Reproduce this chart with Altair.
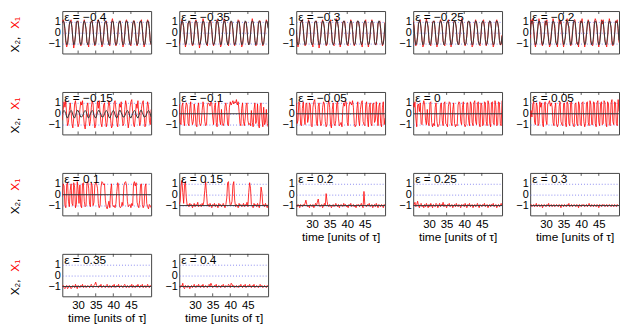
import altair as alt
import pandas as pd

# ---------------- data ----------------
T0, DT, TMAX = 25.5, 0.25, 50.75
X_TICKS = [30, 35, 40, 45]
Y_TICKS = [-1, 0, 1]
EPS_LABELS = ["−0.4", "−0.35", "−0.3", "−0.25", "−0.2", "−0.15", "−0.1", "−0.05",
              "0", "0.05", "0.1", "0.15", "0.2", "0.25", "0.3", "0.35", "0.4"]

black_m040 = [0.9,1.1,1.0,0.4,-0.7,-1.1,-1.0,-0.3, 0.8,1.1,1.0,0.5,-0.6,-1.1,-1.0,-0.2,
              0.9,1.1,1.0,0.3,-0.8,-1.1,-1.0,-0.2, 0.9,1.1,0.9,0.3,-0.8,-1.1,-1.0,-0.3,
              0.8,1.1,1.0,0.4,-0.7,-1.1,-1.0,-0.2, 0.9,1.1,1.0,0.4,-0.7,-1.1,-1.0,-0.3,
              0.8,1.1,1.0,0.5,-0.6,-1.1,-1.0,-0.2, 0.9,1.1,1.0,0.3,-0.8,-1.1,-1.0,-0.3,
              0.8,1.1,1.0,0.4,-0.7,-1.1,-1.0,-0.2, 0.9,1.1,1.0,0.4,-0.7,-1.1,-1.0,-0.3,
              0.8,1.1,1.0,0.4,-0.7,-1.1,-1.0,-0.2, 0.9,1.1,1.0,0.4,-0.7,-1.1,-1.0,-0.3,
              0.9,1.1,1.0,0.4,-0.7,-1.1]
red_m040 = [1.0,1.2,0.9,0.2,-0.9,-1.3,-1.0,-0.1, 0.7,1.0,1.2,0.5,-0.5,-1.4,-0.9,-0.3,
            1.0,1.0,1.1,0.2,-0.9,-1.2,-1.1,-0.1, 0.8,1.2,0.8,0.4,-0.9,-1.0,-1.3,-0.2,
            0.9,1.0,1.1,0.3,-0.8,-1.2,-0.9,-0.3, 1.0,1.2,0.9,0.5,-0.6,-1.3,-1.1,-0.2,
            0.7,1.0,1.1,0.6,-0.7,-1.0,-1.2,-0.1, 1.0,1.3,0.9,0.2,-0.9,-1.2,-0.9,-0.4,
            0.8,1.0,1.1,0.5,-0.8,-1.3,-1.0,-0.1, 1.0,1.2,0.9,0.3,-0.6,-1.0,-1.2,-0.3,
            0.7,1.1,1.1,0.5,-0.8,-1.2,-0.9,-0.2, 1.0,1.0,1.2,0.3,-0.7,-1.3,-1.0,-0.2,
            0.9,1.2,1.0,0.4,-0.8,-1.1]

black_m035 = [-1.0,-0.4,0.7,1.1,1.0,0.5,-0.6,-1.1, -1.0,-0.3,0.8,1.1,1.0,0.4,-0.7,-1.1,
              -1.0,-0.2,0.9,1.1,1.0,0.3,-0.8,-1.1, -1.0,-0.3,0.8,1.1,1.0,0.4,-0.7,-1.1,
              -1.0,-0.2,0.9,1.1,0.9,0.3,-0.8,-1.1, -1.0,-0.3,0.8,1.1,1.0,0.4,-0.7,-1.1,
              -1.0,-0.3,0.8,1.1,1.0,0.5,-0.6,-1.1, -1.0,-0.2,0.9,1.1,1.0,0.3,-0.8,-1.1,
              -1.0,-0.3,0.8,1.1,1.0,0.4,-0.7,-1.1, -1.0,-0.3,0.8,1.1,1.0,0.4,-0.7,-1.1,
              -1.0,-0.2,0.9,1.1,1.0,0.4,-0.7,-1.1, -1.0,-0.3,0.8,1.1,1.0,0.4,-0.7,-1.1,
              -1.0,-0.3,0.8,1.1,1.0,0.4]
red_m035 = [-1.2,-0.5,0.6,1.2,0.9,0.6,-0.5,-1.3, -0.9,-0.2,0.9,1.0,1.1,0.3,-0.9,-1.2,
            -1.1,-0.1,1.0,1.2,0.9,0.2,-0.7,-1.4, -0.9,-0.4,0.7,1.3,1.0,0.5,-0.8,-1.0,
            -1.2,-0.1,1.0,1.0,1.1,0.2,-0.9,-1.2, -0.9,-0.4,0.9,1.2,0.9,0.5,-0.6,-1.3,
            -1.1,-0.2,0.7,1.3,1.1,0.4,-0.7,-1.0, -1.2,-0.3,1.0,1.0,0.9,0.2,-0.9,-1.2,
            -0.9,-0.2,0.8,1.2,1.1,0.5,-0.6,-1.3, -1.1,-0.4,0.9,1.0,1.0,0.3,-0.8,-1.1,
            -1.0,-0.1,0.8,1.3,0.9,0.5,-0.7,-1.2, -1.1,-0.3,0.9,1.1,1.1,0.3,-0.8,-1.2,
            -0.9,-0.2,0.7,1.2,1.0,0.5]

black_m030 = [0.3,-0.8,-1.1,-1.0,-0.2,0.9,1.1,1.0, 0.4,-0.7,-1.1,-1.0,-0.3,0.8,1.1,1.0,
              0.3,-0.8,-1.1,-1.0,-0.2,0.9,1.1,1.0, 0.4,-0.7,-1.1,-1.0,-0.3,0.8,1.1,1.0,
              0.4,-0.7,-1.1,-1.0,-0.2,0.9,1.1,1.0, 0.3,-0.8,-1.1,-1.0,-0.3,0.8,1.1,1.0,
              0.4,-0.7,-1.1,-1.0,-0.2,0.9,1.1,1.0, 0.4,-0.7,-1.1,-1.0,-0.3,0.8,1.1,1.0,
              0.3,-0.8,-1.1,-1.0,-0.2,0.9,1.1,1.0, 0.4,-0.7,-1.1,-1.0,-0.3,0.8,1.1,1.0,
              0.4,-0.7,-1.1,-1.0,-0.2,0.9,1.1,1.0, 0.3,-0.8,-1.1,-1.0,-0.3,0.8,1.1,1.0,
              0.4,-0.7,-1.1,-1.0,-0.2,0.9]
red_m030 = [0.2,-0.9,-1.3,-0.9,-0.1,1.0,1.0,1.2, 0.3,-0.6,-1.2,-1.1,-0.4,0.7,1.2,0.9,
            0.5,-0.9,-1.0,-1.3,-0.1,1.0,1.0,1.1, 0.2,-0.8,-1.4,-0.9,-0.2,0.9,1.2,0.9,
            0.5,-0.6,-1.2,-1.1,-0.3,0.8,1.0,1.2, 0.2,-0.9,-1.0,-1.2,-0.2,0.9,1.3,0.9,
            0.5,-0.8,-1.3,-0.9,-0.1,1.0,1.0,1.1, 0.3,-0.6,-1.1,-1.2,-0.4,0.7,1.2,1.0,
            0.2,-0.9,-1.2,-1.0,-0.1,1.0,1.1,0.9, 0.5,-0.7,-1.0,-1.3,-0.2,0.9,1.0,1.2,
            0.3,-0.8,-1.3,-0.9,-0.3,0.8,1.2,0.9, 0.4,-0.9,-1.1,-1.1,-0.2,0.9,1.0,1.1,
            0.3,-0.6,-1.2,-1.0,-0.3,1.0]

black_m025 = [1.0,0.5,-0.6,-1.1,-1.0,-0.3,0.8,1.1, 1.0,0.4,-0.7,-1.1,-1.0,-0.2,0.9,1.1,
              1.0,0.4,-0.7,-1.1,-1.0,-0.3,0.8,1.1, 1.0,0.3,-0.8,-1.1,-1.0,-0.2,0.9,1.1,
              1.0,0.4,-0.7,-1.1,-1.0,-0.3,0.8,1.1, 1.0,0.5,-0.6,-1.1,-1.0,-0.2,0.9,1.1,
              1.0,0.4,-0.7,-1.1,-1.0,-0.3,0.8,1.1, 1.0,0.3,-0.8,-1.1,-1.0,-0.2,0.9,1.1,
              1.0,0.4,-0.7,-1.1,-1.0,-0.3,0.8,1.1, 1.0,0.4,-0.7,-1.1,-1.0,-0.2,0.9,1.1,
              1.0,0.5,-0.6,-1.1,-1.0,-0.3,0.8,1.1, 1.0,0.4,-0.7,-1.1,-1.0,-0.2,0.9,1.1,
              1.0,0.4,-0.7,-1.1,-1.0,-0.3]
red_m025 = [1.1,0.6,-0.8,-1.2,-0.9,-0.4,0.9,1.0, 1.2,0.3,-0.6,-1.3,-1.1,-0.1,0.8,1.3,
            0.9,0.5,-0.9,-1.0,-1.2,-0.4,1.0,1.0, 1.1,0.2,-0.7,-1.3,-0.9,-0.1,0.8,1.2,
            1.0,0.5,-0.8,-1.1,-1.2,-0.2,0.9,1.0, 1.2,0.4,-0.5,-1.3,-0.9,-0.3,1.0,1.1,
            0.9,0.5,-0.8,-1.0,-1.1,-0.2,0.7,1.3, 1.1,0.2,-0.9,-1.2,-0.9,-0.3,1.0,1.0,
            1.0,0.5,-0.6,-1.3,-1.1,-0.2,0.9,1.2, 0.9,0.3,-0.8,-1.0,-1.2,-0.3,0.8,1.0,
            1.2,0.6,-0.7,-1.2,-0.9,-0.2,0.9,1.1, 1.0,0.3,-0.8,-1.3,-1.0,-0.3,1.0,1.2,
            0.9,0.5,-0.6,-1.1,-1.1,-0.2]

black_m020 = [-0.2,0.9,1.1,1.0,0.4,-0.7,-1.1,-1.0, -0.3,0.8,1.1,1.0,0.4,-0.7,-1.1,-1.0,
              -0.2,0.9,1.1,1.0,0.3,-0.8,-1.1,-1.0, -0.3,0.8,1.1,1.0,0.4,-0.7,-1.1,-1.0,
              -0.2,0.9,1.1,1.0,0.5,-0.6,-1.1,-1.0, -0.3,0.8,1.1,1.0,0.4,-0.7,-1.1,-1.0,
              -0.2,0.9,1.1,1.0,0.3,-0.8,-1.1,-1.0, -0.3,0.8,1.1,1.0,0.4,-0.7,-1.1,-1.0,
              -0.2,0.9,1.1,1.0,0.4,-0.7,-1.1,-1.0, -0.3,0.8,1.1,1.0,0.4,-0.7,-1.1,-1.0,
              -0.2,0.9,1.1,1.0,0.3,-0.8,-1.1,-1.0, -0.3,0.8,1.1,1.0,0.4,-0.7,-1.1,-1.0,
              -0.2,0.9,1.1,1.0,0.4,-0.7]
red_m020 = [-0.5,1.2,0.8,1.3,0.1,-0.9,-1.3,-0.8, 0.1,0.6,1.3,0.8,0.6,-1.0,-1.2,-0.7,
            -0.4,1.1,0.7,1.2,0.0,-0.5,-1.3,-1.1, 0.0,0.5,1.3,0.9,0.7,-0.9,-1.0,-1.3,
            -0.1,1.2,0.8,1.1,0.2,-0.9,-1.3,-0.7, -0.5,1.0,1.3,0.7,0.6,-0.5,-1.2,-1.1,
            0.1,0.7,1.2,1.2,0.0,-1.0,-0.9,-1.3, -0.4,1.1,0.9,1.3,0.5,-0.6,-1.3,-0.8,
            0.0,0.6,1.2,0.8,0.1,-0.9,-1.1,-1.2, -0.6,1.0,1.3,1.1,0.6,-0.8,-1.3,-0.8,
            0.1,1.2,0.8,1.2,0.0,-0.6,-1.0,-1.3, -0.5,0.7,1.3,0.9,0.5,-1.0,-1.2,-0.9,
            0.0,1.1,0.9,1.2,0.2,-0.9]

black_m015 = [0.0,0.2,0.3,0.2,0.0,-0.3,-0.4,-0.2, 0.0,0.2,0.3,0.2,-0.1,-0.3,-0.4,-0.2,
              0.1,0.3,0.3,0.1,-0.1,-0.3,-0.3,-0.2, 0.0,0.2,0.3,0.2,0.0,-0.3,-0.4,-0.2,
              0.0,0.2,0.3,0.2,-0.1,-0.3,-0.4,-0.2, 0.1,0.3,0.3,0.1,-0.1,-0.3,-0.3,-0.2,
              0.0,0.2,0.3,0.2,0.0,-0.3,-0.4,-0.2, 0.0,0.2,0.3,0.2,-0.1,-0.3,-0.4,-0.2,
              0.1,0.3,0.3,0.1,-0.1,-0.3,-0.3,-0.2, 0.0,0.2,0.3,0.2,0.0,-0.3,-0.4,-0.2,
              0.0,0.2,0.3,0.2,-0.1,-0.3,-0.4,-0.2, 0.1,0.3,0.3,0.1,-0.1,-0.3,-0.3,-0.2,
              0.0,0.2,0.3,0.2,0.0,-0.3]
red_m015 = [-0.6,0.4,1.1,0.6,1.2,-0.2,-1.1,-0.8, 0.3,1.0,0.2,-0.9,-1.3,-0.4,0.9,1.2,
            0.5,-0.6,-1.2,-0.9,0.4,1.1,0.8,1.2, -0.1,-1.0,-1.4,-0.6,0.7,1.0,-0.3,-1.1,
            -0.7,0.6,1.2,0.9,-0.5,-1.3,-1.0,0.2, 1.1,0.5,1.2,0.1,-0.9,-1.2,-0.3,0.8,
            1.0,-0.4,-1.2,-0.8,0.5,1.2,0.7,-0.6, -1.3,-1.1,0.1,1.0,1.2,0.4,-0.8,-1.2,
            -0.2,0.9,0.6,1.1,-0.3,-1.1,-0.9,0.4, 1.2,0.8,-0.5,-1.3,-0.7,0.6,1.1,1.3,
            0.2,-1.0,-1.2,-0.4,0.9,0.5,1.2,-0.2, -1.1,-0.8,0.5,1.0,1.2,-0.1,-1.2,-0.9,
            0.3,1.1,0.7,-0.6,-1.0,0.4]

red_m010 = [0.9,-0.8,-1.0,0.7,1.0,-0.6,-1.1,0.4, 1.0,0.8,-0.9,-1.1,0.5,1.1,-0.4,-1.0,
            -0.7,0.9,0.2,-1.0,-1.2,0.6,1.0,-0.8, -1.1,-0.9,0.3,1.1,0.6,-0.7,-1.1,-1.0,
            0.8,1.0,0.9,0.7,1.1,0.9,-0.3,-1.0, 0.6,1.0,-0.8,-1.2,0.5,1.1,-0.6,-1.0,
            0.4,-0.9,-1.1,-0.8,0.7,1.0,0.2,-1.0, -1.1,0.6,1.1,0.8,1.0,1.2,0.9,1.1,
            1.0,1.3,0.8,1.1,0.2,-0.9,-1.1,0.5, 1.0,-0.7,-1.1,-0.4,0.8,1.0,-0.6,-1.0,
            -0.9,-1.1,0.3,-0.8,-1.2,0.4,1.0,-0.9, -0.6,0.9,-1.0,-1.3,0.7,1.0,-0.5,-1.2,
            0.6,-1.0,-0.8,0.4,-0.9,-1.2]
red_m005 = [1.0,-0.9,-0.6,1.1,0.8,-1.0,-1.1,0.5, 1.1,-0.3,-1.0,0.9,1.0,-0.8,-0.4,1.0,
            0.8,-1.1,-1.2,0.6,1.1,1.3,0.4,-0.9, -1.1,0.7,1.0,-0.5,-1.1,-0.9,0.6,1.1,
            0.9,-0.7,-1.2,-1.0,0.8,1.2,0.6,-1.0, -1.3,0.4,1.0,-0.9,-1.1,-0.6,0.9,1.1,
            -0.4,-1.1,-1.0,-0.8,-1.2,0.5,1.0,0.7, 1.2,1.0,-0.8,-1.1,0.7,1.1,1.0,0.8,
            1.2,0.6,-0.9,-1.2,-1.0,0.5,1.1,-0.6, -1.1,0.4,1.0,1.2,-0.7,-1.0,-1.1,0.8,
            1.1,-0.5,-1.2,0.6,1.0,-0.9,-1.1,0.9, 1.0,-0.8,-0.6,1.1,-0.2,-1.1,0.7,1.0,
            -0.9,-1.2,0.6,1.1,-1.0,-0.4]
red_000 = [1.0,0.6,1.1,-0.4,-1.2,0.8,0.9,0.2, 1.0,-0.9,-1.0,0.7,1.2,0.9,-0.6,-1.0,
           0.4,-0.8,-1.1,1.0,1.1,-0.8,-1.2,-0.9, -1.1,0.6,1.0,-0.7,-1.2,-1.1,-0.9,0.8,
           1.0,-0.6,-1.1,0.9,1.1,-0.9,-1.0,-1.2, 0.7,1.1,1.0,-0.8,-1.1,0.4,1.0,-0.9,
           -1.2,-1.0,-1.1,0.8,1.1,1.0,-0.7,-1.0, 0.6,1.1,-0.9,-1.2,-1.0,1.0,1.0,-0.6,
           -1.1,1.1,0.9,-0.8,-1.1,1.0,1.2,-0.7, -1.0,0.9,1.1,-0.9,-1.2,1.0,0.8,-1.1,
           -1.0,1.1,1.0,-0.7,-1.1,1.2,0.9,-0.9, -1.2,1.0,1.1,-0.8,-1.0,1.2,0.7,-1.1,
           -1.0,1.1,1.0,-0.9,-1.1,1.2]
red_p005 = [-0.5,0.3,-0.3,0.9,1.1,-0.8,-1.0,1.0, 0.7,-1.1,-0.9,1.1,0.6,1.0,-0.9,-1.2,
            0.8,1.1,-0.6,-1.0,0.9,1.0,1.2,0.7, 1.0,0.6,-0.8,-1.1,0.5,1.0,-1.0,-1.2,
            -0.9,0.7,1.1,-0.7,-1.0,-1.1,0.9,1.0, -0.8,-1.2,1.1,0.9,-0.9,-1.1,1.0,1.1,
            -0.8,-1.0,-1.2,0.9,1.0,-0.9,-1.1,1.1, 0.8,-1.0,-1.1,1.0,1.1,-0.7,-1.2,-0.9,
            1.0,1.1,-0.8,-1.1,1.2,0.9,-1.0,-1.0, 1.1,1.0,-0.9,-1.2,1.0,1.2,-0.8,-1.1,
            0.9,1.1,-1.0,-0.9,1.2,1.0,-0.8,-1.2, 1.1,0.9,-1.0,-1.1,1.0,1.3,-0.7,-1.0,
            1.1,1.0,-0.9,-1.1,1.3,0.2]
red_p010 = [-0.2,1.0,0.8,-1.0,-1.2,0.9,1.1,-0.6, -1.1,0.4,1.0,-0.8,-1.0,1.1,0.7,-1.2,
            -0.9,1.2,0.5,-0.8,0.9,-1.0,-1.2,1.0, 1.1,-0.6,-1.1,-1.0,1.0,1.2,0.6,-0.9,
            -1.1,1.1,0.8,-1.0,-0.7,0.9,1.1,1.0, 0.6,-0.8,-1.2,-1.0,0.7,1.2,1.1,0.9,
            1.0,-0.5,-1.1,-1.3,-1.0,-0.6,-1.2,0.4, 1.0,-0.9,-1.1,-1.0,-1.2,-0.8,0.3,1.1,
            0.9,-1.0,-1.2,-1.1,-0.7,-1.0,0.8,1.1, 1.2,0.9,-0.6,-1.1,-1.0,-0.9,-1.2,-0.8,
            -1.0,1.0,1.2,0.8,1.1,-0.7,-1.0,-1.2, -0.5,0.9,1.0,-0.9,-1.2,-1.0,0.7,1.0,
            -0.8,-1.1,-1.3,-0.9,-1.0,-1.2]
red_p015 = [-0.9,-0.6,0.8,1.3,0.2,-0.8,0.9,1.2, -0.3,-1.0,-0.9,-1.1,-0.8,-1.0,-0.9,-1.2,
            -1.0,-0.8,-1.1,-0.9,-1.0,-0.7,-1.1,-1.0, -0.9,-1.1,-0.8,-1.0,-0.6,0.4,1.2,0.1,
            -1.0,-0.9,-1.1,-0.8,-1.0,-1.2,-0.9,-1.0, -0.8,-1.1,-0.9,-1.0,-1.2,-0.8,-1.0,-0.9,
            -1.1,-1.0,-0.8,-1.0,-1.2,-0.9,-0.3,1.1, 1.2,-0.4,-1.0,-0.9,-0.6,0.9,1.2,-0.5,
            -1.1,-0.9,-1.0,-1.2,-0.8,-1.0,-0.9,-1.1, -1.0,-0.8,-1.1,-0.9,-1.0,-0.7,-1.1,0.2,
            1.1,0.6,-0.9,-1.0,-1.2,-0.8,-1.0,-0.9, -1.1,-0.8,-1.0,-1.2,-0.6,0.7,0.2,-1.0,
            -0.9,-1.1,-0.8,-1.0,-1.2,-0.9]
red_p020 = [-1.0,-1.1,-0.9,-1.0,-1.2,-0.9,-1.0,-1.1, -0.9,-1.0,-0.8,-0.5,-0.9,-1.1,-1.0,-1.2,
            -0.9,-1.0,-1.1,-0.9,-1.2,-1.0,-0.8,-1.0, -0.7,-0.4,-0.9,-1.1,-1.0,-0.9,-1.2,-1.0,
            -0.8,-1.0,0.1,-0.6,-1.0,-1.1,-0.9,-1.0, -1.2,-1.0,-0.9,-1.1,-1.0,-0.8,-1.0,-1.1,
            -0.9,-1.2,-1.0,-0.9,-1.0,-1.1,-0.8,-1.0, -0.9,-1.1,-1.0,-1.2,-0.9,-1.0,-0.8,-1.1,
            -1.0,-0.9,-1.1,-1.0,-1.2,-0.9,-1.0,-0.9, -1.1,-1.0,-0.8,-1.0,-1.2,0.3,-0.9,-1.0,
            -1.1,-0.9,-1.0,-0.8,-1.1,-1.0,-0.9,-1.2, -1.0,-0.9,-1.1,-0.8,-1.0,-1.2,-0.9,-1.0,
            -1.1,-0.9,-1.0,-1.2,-0.9,-1.0]
red_p025 = [-1.0,-0.9,-0.7,-1.1,-0.9,-0.6,-1.0,-1.2, -0.9,-0.8,-1.1,-1.0,-1.2,-0.9,-1.1,-0.8,
            -1.0,-1.2,-0.9,-1.1,-0.8,-1.0,-1.2,-0.9, -1.0,-1.1,-0.8,-0.9,-1.2,-1.0,-0.8,-1.1,
            -0.9,-1.0,-0.7,-1.1,-0.9,-1.0,-1.2,-0.9, -1.0,-0.8,-1.1,-1.0,-0.9,-1.2,-1.0,-0.9,
            -1.1,-0.8,-1.0,-1.1,-0.9,-1.0,-1.2,-0.9, -1.0,-0.9,-1.1,-0.8,-1.0,-1.2,-0.9,-1.0,
            -0.8,-1.1,-1.0,-0.9,-1.2,-1.0,-0.9,-1.1, -1.0,-0.8,-1.0,-1.2,-0.9,-1.0,-1.1,-0.9,
            -1.0,-0.8,-1.1,-1.0,-0.9,-1.2,-1.0,-0.9, -1.1,-0.9,-1.0,-0.8,-1.1,-1.0,-0.9,-1.2,
            -1.0,-0.9,-1.1,-1.0,-0.8,-1.0]
red_p030 = [-1.0,-0.9,-1.1,-1.0,-0.9,-1.1,-1.0,-0.8, -1.1,-1.0,-0.9,-1.1,-1.0,-0.9,-1.2,-1.0,
            -0.9,-1.0,-1.1,-0.9,-1.0,-0.8,-1.1,-1.0, -0.9,-1.1,-1.0,-0.9,-1.1,-1.0,-0.9,-1.0,
            -1.1,-0.9,-1.0,-1.2,-0.9,-1.0,-1.1,-0.9, -1.0,-1.1,-0.9,-1.0,-0.8,-1.1,-1.0,-0.9,
            -1.1,-1.0,-0.9,-1.0,-1.1,-0.9,-1.0,-1.2, -0.9,-1.0,-1.1,-0.9,-1.0,-0.9,-1.1,-1.0,
            -0.9,-1.1,-1.0,-0.8,-1.0,-1.1,-0.9,-1.0, -1.1,-0.9,-1.0,-1.1,-0.9,-1.0,-1.2,-0.9,
            -1.0,-1.1,-0.9,-1.0,-0.9,-1.1,-1.0,-0.9, -1.1,-1.0,-0.9,-1.0,-1.1,-0.9,-1.0,-1.1,
            -0.9,-1.0,-1.1,-0.9,-1.0,-1.0]
red_p035 = [-1.0,-0.9,-1.1,-1.2,-1.0,-0.9,-1.2,-1.1, -0.9,-1.0,-1.2,-1.1,-0.9,-1.0,-1.1,-0.8,
            -1.0,-1.2,-0.9,-1.0,-1.1,-0.9,-1.0,-0.8, -1.1,-1.0,-0.9,-1.1,-1.0,-0.9,-1.0,-1.1,
            -0.9,-0.8,-1.0,-1.1,-0.9,-0.8,-0.6,-0.9, -1.0,-1.1,-0.9,-1.0,-0.8,-1.1,-1.0,-0.9,
            -1.0,-1.1,-0.9,-0.8,-1.0,-1.1,-0.9,-1.0, -1.1,-0.9,-1.0,-0.8,-1.1,-1.0,-0.9,-1.0,
            -0.8,-1.1,-1.0,-0.9,-1.0,-1.1,-0.9,-0.8, -1.0,-1.1,-0.9,-1.0,-1.1,-0.9,-1.0,-0.8,
            -1.1,-0.9,-1.0,-1.1,-0.9,-1.0,-0.8,-1.0, -1.1,-0.9,-1.0,-0.8,-1.1,-1.0,-0.9,-1.1,
            -1.0,-0.8,-1.0,-1.1,-0.9,-1.0]
red_p040 = [-1.0,-1.1,-0.9,-1.0,-0.7,-1.1,-1.2,-0.9, -1.0,-1.1,-0.9,-1.0,-1.2,-1.0,-0.9,-1.1,
            -1.0,-0.8,-1.0,-1.1,-0.9,-1.0,-0.8,-1.0, -1.1,-0.9,-1.0,-0.8,-1.1,-1.0,-0.9,-1.0,
            -1.1,-0.9,-0.8,-1.0,-0.7,-0.9,-1.1,-1.0, -0.9,-1.0,-0.8,-1.1,-1.0,-0.9,-1.0,-1.1,
            -0.9,-1.0,-0.8,-1.0,-1.1,-0.9,-1.0,-1.0, -0.8,-0.9,-1.1,-0.7,-0.8,-1.0,-0.9,-1.1,
            -1.0,-0.9,-1.0,-1.1,-0.9,-1.0,-0.8,-1.0, -1.1,-0.9,-1.0,-0.8,-1.1,-1.0,-0.9,-1.0,
            -0.8,-1.0,-1.1,-0.9,-1.0,-0.8,-1.1,-1.0, -0.9,-1.0,-1.1,-0.9,-0.8,-1.0,-0.9,-1.1,
            -1.0,-0.9,-1.0,-1.1,-0.9,-1.0]

# flat black levels (constant lines) for the remaining panels
black_zero = [0.0, 0.0]
black_low = [-1.0, -1.0]

BLACK = [black_m040, black_m035, black_m030, black_m025, black_m020, black_m015,
         black_zero, black_zero, black_zero, black_zero, black_zero,
         black_low, black_low, black_low, black_low, black_low, black_low]
RED = [red_m040, red_m035, red_m030, red_m025, red_m020, red_m015, red_m010, red_m005,
       red_000, red_p005, red_p010, red_p015, red_p020, red_p025, red_p030, red_p035, red_p040]

# ---------------- layout ----------------
W, H = 90, 43
FONT = "Liberation Sans"
WITH_X_LABELS = {12, 13, 14, 15, 16}


def to_df(vals):
    if len(vals) == 2:
        return pd.DataFrame({"t": [T0, TMAX], "v": vals})
    return pd.DataFrame({"t": [T0 + DT * i for i in range(len(vals))], "v": vals})


def panel(i):
    show_x = i in WITH_X_LABELS
    xaxis_kw = dict(values=X_TICKS, ticks=False, domain=False, grid=False,
                    labels=show_x, labelFont=FONT, labelFontSize=11.5, labelColor="#000",
                    labelPadding=3, labelOverlap=False, labelFlush=False,
                    titleFont=FONT, titleFontSize=12,
                    titleFontWeight="normal", titleColor="#000", titlePadding=2)
    xaxis_kw["title"] = "time [units of τ]" if show_x else ""
    x = alt.X("t:Q", scale=alt.Scale(domain=[T0, TMAX], nice=False, zero=False),
              axis=alt.Axis(**xaxis_kw))
    y = alt.Y("v:Q", scale=alt.Scale(domain=[-1.9, 2.0], nice=False, zero=False),
              axis=alt.Axis(values=Y_TICKS, ticks=False, domain=False, grid=True,
                            gridColor="#8c8cf0", gridDash=[1, 2], gridWidth=1,
                            labelFont=FONT, labelFontSize=11, labelColor="#000",
                            labelPadding=2, labelOverlap=False, labelFlush=False,
                            labelBaseline="middle", title=""))
    red = alt.Chart(to_df(RED[i])).mark_line(color="#ff0000", strokeWidth=0.8,
                                             clip=True).encode(x=x, y=y)
    black = alt.Chart(to_df(BLACK[i])).mark_line(color="#383838", strokeWidth=1,
                                                 clip=True).encode(x=x, y=y)
    tick_df = pd.DataFrame({"t": X_TICKS})
    tb = alt.Chart(tick_df).mark_rule(color="#333333", strokeWidth=0.8).encode(
        x=x, y=alt.value(H - 3), y2=alt.value(H))
    tt = alt.Chart(tick_df).mark_rule(color="#333333", strokeWidth=0.8).encode(
        x=x, y=alt.value(0), y2=alt.value(3))
    lab = alt.Chart(pd.DataFrame({"s": ["ε = " + EPS_LABELS[i]]})).mark_text(
        align="left", baseline="top", font=FONT, fontSize=12, color="#000").encode(
        x=alt.value(2), y=alt.value(1), text="s:N")
    layers = [red, black, tb, tt, lab]
    if i % 5 == 0:
        y1 = alt.Chart(pd.DataFrame({"s": ["X₁"]})).mark_text(
            angle=270, align="center", baseline="middle", font=FONT, fontSize=12,
            color="#ff0000").encode(x=alt.value(-48), y=alt.value(12), text="s:N")
        y2 = alt.Chart(pd.DataFrame({"s": ["X₂,"]})).mark_text(
            angle=270, align="center", baseline="middle", font=FONT, fontSize=12,
            color="#000").encode(x=alt.value(-48), y=alt.value(34), text="s:N")
        layers += [y1, y2]
    return alt.layer(*layers).properties(width=W, height=H)


chart = alt.concat(*[panel(i) for i in range(17)], columns=5,
                   spacing={"row": 39, "column": 28.5}, bounds="flush").configure_view(
    stroke="#444444", strokeWidth=1).properties(padding={"left": 0, "top": 0, "right": 0, "bottom": 0})

chart.save("out.html", embed_options={"renderer": "svg", "actions": False})
